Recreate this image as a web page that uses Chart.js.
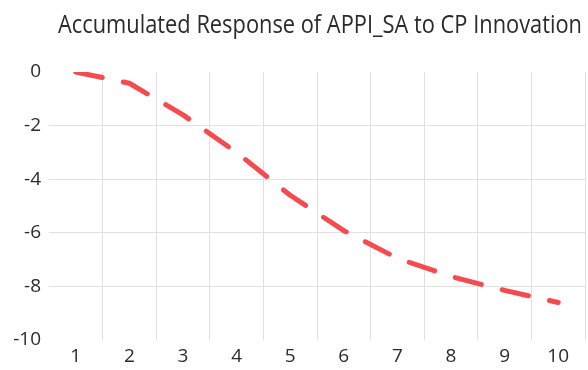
<!DOCTYPE html>
<html>
<head>
<meta charset="utf-8">
<script src="https://cdn.jsdelivr.net/npm/chart.js@4/dist/chart.umd.min.js"></script>
<style>
  html, body { margin: 0; padding: 0; background: #ffffff; }
  #wrap { width: 588px; height: 370px; position: relative; }
</style>
</head>
<body>
<div id="wrap"><canvas id="c" width="588" height="370"></canvas></div>
<script>
const titleText = "Accumulated Response of APPI_SA to CP Innovation";
const periods = ["1", "2", "3", "4", "5", "6", "7", "8", "9", "10"];
const response = [0.0, -0.42, -1.6, -3.0, -4.6, -5.92, -6.95, -7.63, -8.15, -8.6];
const yTicks = [0, -2, -4, -6, -8, -10];

const gridColor = "#e0e0e0";
const textColor = "#2b2b2b";

// narrow the title box so the (squeezed) title spans the same width as the reference
const titleBoxPlugin = {
  id: "titleBox",
  afterLayout(chart) {
    const t = chart.titleBlock;
    if (!t) return;
    const ca = chart.chartArea;
    const cx = (ca.left + ca.right) / 2 + 3;
    const w = 524;
    t.left = cx - w / 2;
    t.right = cx + w / 2;
    t.width = w;
  }
};

new Chart(document.getElementById("c"), {
  type: "line",
  data: {
    labels: periods,
    datasets: [{
      data: response,
      borderColor: "rgb(245,74,78)",
      borderWidth: 5,
      borderDash: [27, 21.5],
      borderCapStyle: "round",
      borderJoinStyle: "round",
      pointRadius: 0,
      tension: 0,
      fill: false
    }]
  },
  plugins: [titleBoxPlugin],
  options: {
    responsive: false,
    animation: false,
    devicePixelRatio: 1,
    layout: { padding: { left: 0, right: 3, top: 0, bottom: 0 } },
    plugins: {
      legend: { display: false },
      tooltip: { enabled: false },
      title: {
        display: true,
        text: titleText,
        fullSize: false,
        align: "center",
        color: textColor,
        font: { family: "'Open Sans', sans-serif", size: 25, weight: "normal", lineHeight: 1.2 },
        padding: { top: 11, bottom: 31 }
      }
    },
    scales: {
      x: {
        offset: true,
        grid: {
          offset: true,
          drawTicks: false,
          color: (ctx) => (ctx.index === 0 || ctx.index === periods.length) ? "rgba(0,0,0,0)" : gridColor,
          lineWidth: 1
        },
        border: { display: false },
        ticks: {
          color: textColor,
          padding: 5,
          maxRotation: 0,
          font: { family: "'Open Sans', sans-serif", size: 19 }
        },
        afterFit: (scale) => { scale.height = 30; }
      },
      y: {
        min: -10,
        max: 0,
        afterBuildTicks: (scale) => { scale.ticks = yTicks.map(v => ({ value: v })); },
        grid: {
          drawTicks: false,
          color: (ctx) => (ctx.tick && (ctx.tick.value === 0 || ctx.tick.value === -10)) ? "rgba(0,0,0,0)" : gridColor,
          lineWidth: 1
        },
        border: { display: false },
        ticks: {
          color: textColor,
          padding: 8,
          font: { family: "'Open Sans', sans-serif", size: 19 },
          callback: (v) => String(v)
        },
        afterFit: (scale) => { scale.width = 49; }
      }
    }
  }
});
</script>
</body>
</html>
